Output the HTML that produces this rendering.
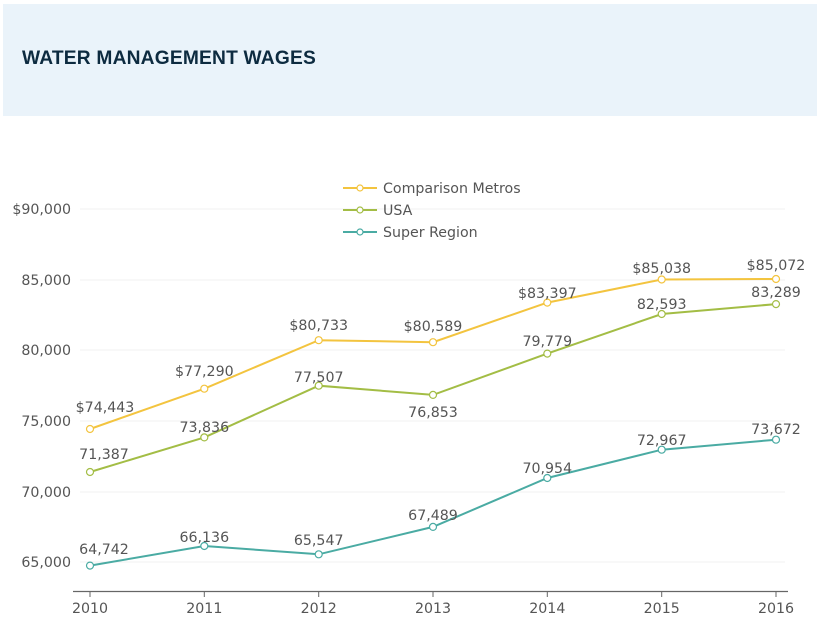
<!DOCTYPE html>
<html><head><meta charset="utf-8"><style>
body{margin:0;width:820px;height:629px;background:#fff;overflow:hidden;font-family:"DejaVu Sans","Liberation Sans",sans-serif}
.hdr{position:absolute;left:3px;top:4px;width:814px;height:112px;background:#eaf3fa}
.hdr h1{position:absolute;left:19px;top:44px;margin:0;font-family:"Liberation Sans",sans-serif;font-weight:bold;font-size:19.2px;color:#0d2b40;letter-spacing:0.2px}
svg{position:absolute;left:0;top:0}
text{font-family:"DejaVu Sans","Liberation Sans",sans-serif;font-size:14.2px;fill:#555}
</style></head><body>
<div class="hdr"><h1>WATER MANAGEMENT WAGES</h1></div>
<svg width="820" height="629">
<g stroke="#f0f0f0" stroke-width="1">
<line x1="80" x2="785" y1="209" y2="209"/><line x1="80" x2="785" y1="280" y2="280"/><line x1="80" x2="785" y1="350" y2="350"/><line x1="80" x2="785" y1="421" y2="421"/><line x1="80" x2="785" y1="492" y2="492"/><line x1="80" x2="785" y1="562" y2="562"/>
</g>
<g text-anchor="end">
<text x="71" y="214">$90,000</text><text x="71" y="285">85,000</text><text x="71" y="355">80,000</text><text x="71" y="426">75,000</text><text x="71" y="497">70,000</text><text x="71" y="567">65,000</text>
</g>
<line x1="73" x2="788" y1="591.5" y2="591.5" stroke="#666" stroke-width="1.2"/>
<g stroke="#666"><line x1="90" x2="90" y1="591" y2="597"/><line x1="204.3" x2="204.3" y1="591" y2="597"/><line x1="318.7" x2="318.7" y1="591" y2="597"/><line x1="433" x2="433" y1="591" y2="597"/><line x1="547.3" x2="547.3" y1="591" y2="597"/><line x1="661.7" x2="661.7" y1="591" y2="597"/><line x1="776" x2="776" y1="591" y2="597"/></g>
<g text-anchor="middle">
<text x="90" y="613">2010</text><text x="204.3" y="613">2011</text><text x="318.7" y="613">2012</text><text x="433" y="613">2013</text><text x="547.3" y="613">2014</text><text x="661.7" y="613">2015</text><text x="776" y="613">2016</text>
</g>
<g fill="none" stroke-width="2">
<polyline stroke="#f3c43f" points="90,429 204.3,388.7 318.7,340.2 433,342.2 547.3,302.6 661.7,279.5 776,279"/>
<polyline stroke="#a3bd45" points="90,472 204.3,437.4 318.7,385.7 433,394.9 547.3,353.6 661.7,314 776,304.1"/>
<polyline stroke="#4aaba3" points="90,565.6 204.3,546 318.7,554.3 433,526.9 547.3,478 661.7,449.7 776,439.7"/>
</g>
<g fill="#fff" stroke-width="1.2">
<g stroke="#f3c43f"><circle cx="90" cy="429" r="3.5"/><circle cx="204.3" cy="388.7" r="3.5"/><circle cx="318.7" cy="340.2" r="3.5"/><circle cx="433" cy="342.2" r="3.5"/><circle cx="547.3" cy="302.6" r="3.5"/><circle cx="661.7" cy="279.5" r="3.5"/><circle cx="776" cy="279" r="3.5"/></g>
<g stroke="#a3bd45"><circle cx="90" cy="472" r="3.5"/><circle cx="204.3" cy="437.4" r="3.5"/><circle cx="318.7" cy="385.7" r="3.5"/><circle cx="433" cy="394.9" r="3.5"/><circle cx="547.3" cy="353.6" r="3.5"/><circle cx="661.7" cy="314" r="3.5"/><circle cx="776" cy="304.1" r="3.5"/></g>
<g stroke="#4aaba3"><circle cx="90" cy="565.6" r="3.5"/><circle cx="204.3" cy="546" r="3.5"/><circle cx="318.7" cy="554.3" r="3.5"/><circle cx="433" cy="526.9" r="3.5"/><circle cx="547.3" cy="478" r="3.5"/><circle cx="661.7" cy="449.7" r="3.5"/><circle cx="776" cy="439.7" r="3.5"/></g>
</g>
<g text-anchor="middle">
<text x="105" y="412">$74,443</text><text x="204.3" y="376">$77,290</text><text x="318.7" y="330">$80,733</text><text x="433" y="331">$80,589</text><text x="547.3" y="298">$83,397</text><text x="661.7" y="273">$85,038</text><text x="776" y="270">$85,072</text>
<text x="104" y="459">71,387</text><text x="204.3" y="432">73,836</text><text x="318.7" y="382">77,507</text><text x="433" y="417">76,853</text><text x="547.3" y="346">79,779</text><text x="661.7" y="309">82,593</text><text x="776" y="297">83,289</text>
<text x="104" y="554">64,742</text><text x="204.3" y="542">66,136</text><text x="318.7" y="545">65,547</text><text x="433" y="520">67,489</text><text x="547.3" y="473">70,954</text><text x="661.7" y="445">72,967</text><text x="776" y="434">73,672</text>
</g>
<g stroke-width="2">
<line x1="343" x2="377" y1="188" y2="188" stroke="#f3c43f"/><circle cx="360" cy="188" r="3" fill="#fff" stroke="#f3c43f" stroke-width="1.2"/>
<line x1="343" x2="377" y1="210" y2="210" stroke="#a3bd45"/><circle cx="360" cy="210" r="3" fill="#fff" stroke="#a3bd45" stroke-width="1.2"/>
<line x1="343" x2="377" y1="232" y2="232" stroke="#4aaba3"/><circle cx="360" cy="232" r="3" fill="#fff" stroke="#4aaba3" stroke-width="1.2"/>
</g>
<text x="383" y="193">Comparison Metros</text>
<text x="383" y="215">USA</text>
<text x="383" y="237">Super Region</text>
</svg>
</body></html>
